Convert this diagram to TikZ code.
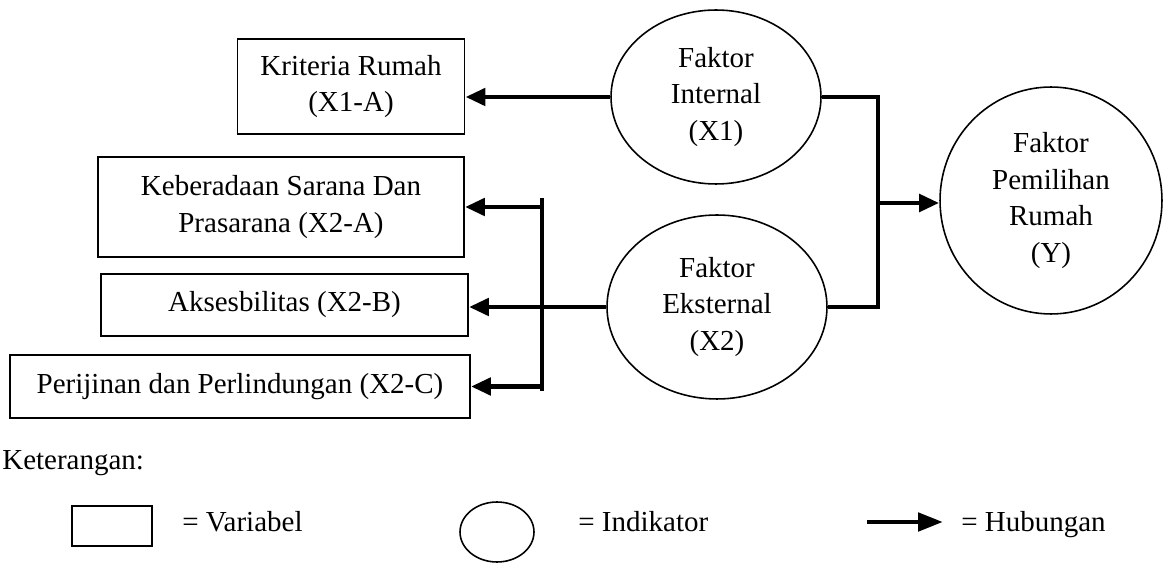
\documentclass[tikz,border=0pt]{standalone}
\usepackage{fontspec}
\setmainfont{Liberation Serif}
\usetikzlibrary{shapes.geometric,arrows.meta,positioning}

\begin{document}
\begin{tikzpicture}[x=0.02cm,y=-0.02cm,
  font=\fontsize{16.5}{21}\selectfont,
  var/.style={draw,line width=1.1pt,align=center,inner sep=0pt},
  ind/.style={draw,ellipse,line width=0.9pt,align=center,inner sep=0pt},
  con/.style={line width=2.8pt},
  hub/.style={line width=2.8pt,-{Triangle[length=0.4cm,width=0.34cm]}}]
\useasboundingbox (0,0) rectangle (1164,563);

\node (ka) at (351,86.5) [var,minimum width=4.54cm,minimum height=1.9cm] {Kriteria Rumah\\(X1-A)};
\node (kb) at (281,207) [var,minimum width=7.32cm,minimum height=2cm] {Keberadaan Sarana Dan\\Prasarana (X2-A)};
\node (kc) at (284.5,305) [var,minimum width=7.34cm,minimum height=1.24cm] {Aksesbilitas (X2-B)};
\node (kd) at (240,386.5) [var,minimum width=9.2cm,minimum height=1.26cm] {Perijinan dan Perlindungan (X2-C)};

\node (x1) at (716,97) [ind,minimum width=4.2cm,minimum height=3.48cm] {Faktor\\Internal\\(X1)};
\node (x2) at (717,307) [ind,minimum width=4.4cm,minimum height=3.68cm] {Faktor\\Eksternal\\(X2)};
\node (y) at (1051,200.5) [ind,minimum width=4.44cm,minimum height=4.54cm] {Faktor\\Pemilihan\\Rumah\\(Y)};

\coordinate (br) at (542,198);
\coordinate (bb) at (542,391);
\coordinate (jn) at (878,203);

\draw[hub] (x1.west) -- (x1.west -| ka.east);
\draw[hub] (x2.west) -- (x2.west -| kc.east);
\draw[con] (br) -- (bb);
\foreach \t in {kb,kd} {
\draw[hub] (\t.east -| br) -- (\t.east);
}
\draw[con] (x1.east) -| (jn) |- (x2.east);
\draw[hub] (jn) -- (jn -| y.west);

% keterangan
\node (kt) at (2,463) [anchor=west,inner sep=0pt] {Keterangan:};
\node (lv) at (112,526) [var,minimum width=1.6cm,minimum height=0.8cm] {};
\node (tv) at (182,532) [anchor=base west,inner sep=0pt] {= Variabel};
\node (li) at (497,532) [ind,minimum width=1.48cm,minimum height=1.2cm] {};
\node (ti) at (578,532) [anchor=base west,inner sep=0pt] {= Indikator};
\coordinate (la) at (867,522);
\node (th) at (961,532) [anchor=base west,inner sep=0pt] {= Hubungan};
\draw[hub,-{Triangle[length=0.5cm,width=0.36cm]},shorten >=0.36cm] (la) -- (la -| th.west);
\end{tikzpicture}
\end{document}
